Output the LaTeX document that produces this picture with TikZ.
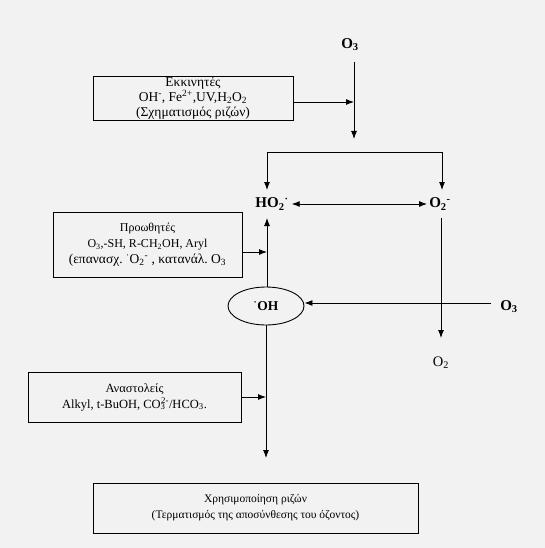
\documentclass[tikz,border=0pt]{standalone}
\usepackage{fontspec}
\setmainfont{Liberation Serif}
\usetikzlibrary{arrows.meta,calc,shapes.geometric}
\begin{document}
\begin{tikzpicture}[x=1pt,y=-1pt,
  box/.style={draw, line width=0.9pt, align=center, inner sep=0pt},
  arr/.style={-{Latex[length=8pt,width=6pt]}, line width=0.9pt},
  darr/.style={{Latex[length=8pt,width=6pt]}-{Latex[length=8pt,width=6pt]}, line width=0.9pt},
  ln/.style={line width=0.9pt},
  chem/.style={font=\fontsize{15}{17}\selectfont\bfseries, inner sep=1pt},
  plain/.style={font=\fontsize{14.5}{16}\selectfont, inner sep=1pt}]
\fill[black!5] (0,0) rectangle (545,548);
\useasboundingbox (0,0) rectangle (545,548);

% boxes
\node[box, minimum width=200, minimum height=44, font=\fontsize{13.5}{15}\selectfont] (b1) at (193,98)
  {Εκκινητές\\OH\textsuperscript{-}, Fe\textsuperscript{2+},UV,H\textsubscript{2}O\textsubscript{2}\\(Σχηματισμός ριζών)};
\node[box, minimum width=189, minimum height=65, font=\fontsize{12}{16}\selectfont] (b2) at (147.5,244.5)
  {Προωθητές\\O\textsubscript{3},-SH, R-CH\textsubscript{2}OH, Aryl\\{\fontsize{13.5}{16}\selectfont (επανασχ.\ \textsuperscript{·}O\textsubscript{2}\textsuperscript{-} , κατανάλ.\ O\textsubscript{3}}};
\node[box, minimum width=213, minimum height=50, font=\fontsize{12.5}{16}\selectfont] (b3) at (134.5,397)
  {Αναστολείς\\Alkyl, t-BuOH, CO\textsubscript{3}\kern-0.35em\textsuperscript{2-}/HCO\textsubscript{3}.};
\node[box, minimum width=325, minimum height=50, font=\fontsize{11.5}{16}\selectfont] (b4) at (255.5,508)
  {Χρησιμοποίηση ριζών\\(Τερματισμός της αποσύνθεσης του όζοντος)};

% species labels
\node[chem] (o3t) at (350,45) {O\textsubscript{3}};
\node[chem] (ho2) at (272,204) {HO\textsubscript{2}\textsuperscript{·}};
\node[chem] (o2m) at (440,204) {O\textsubscript{2}\textsuperscript{-}};
\node[draw, ln, ellipse, minimum width=76, minimum height=38, inner sep=0pt,
      font=\fontsize{13.5}{15}\selectfont\bfseries] (oh) at (266,306) {\textsuperscript{·}OH};
\node[chem] (o3r) at (509,307) {O\textsubscript{3}};
\node[plain] (o2b) at (441,363) {O\textsubscript{2}};

% coordinates
\coordinate (vtop) at (354,62);
\coordinate (vtip) at (354,139);
\coordinate (bl) at (267,152);
\coordinate (br) at (442,152);
\coordinate (o2top) at (441,218);
\coordinate (o2tip) at (441,338);
\coordinate (ohtip) at (266,458);
\coordinate (b1a) at ($(b1.east)+(0,4)$);
\coordinate (b2a) at ($(b2.east)+(0,7.5)$);
\coordinate (o3a) at ($(o3r.west)+(-8,-4)$);
\coordinate (hoa) at (267,218);

% connectors
\draw[arr] (vtop) -- (vtip);
\draw[arr] (b1a) -- (b1a -| vtop);
\draw[ln] (bl) -- (br);
\draw[arr] (bl) -- ++(0,38);
\draw[arr] (br) -- ++(0,38);
\draw[darr] ($(ho2.east)+(2,0)$) -- ($(o2m.west)+(-1,0)$);
\draw[arr] (oh.north -| bl) -- (hoa);
\draw[arr] (b2a) -- (b2a -| bl);
\draw[arr] (o2top) -- (o2tip);
\draw[arr] (o3a) -- (o3a -| oh.east);
\draw[arr] (b3.east) -- (b3.east -| oh);
\draw[arr] (oh.south) -- (ohtip);
\end{tikzpicture}
\end{document}
